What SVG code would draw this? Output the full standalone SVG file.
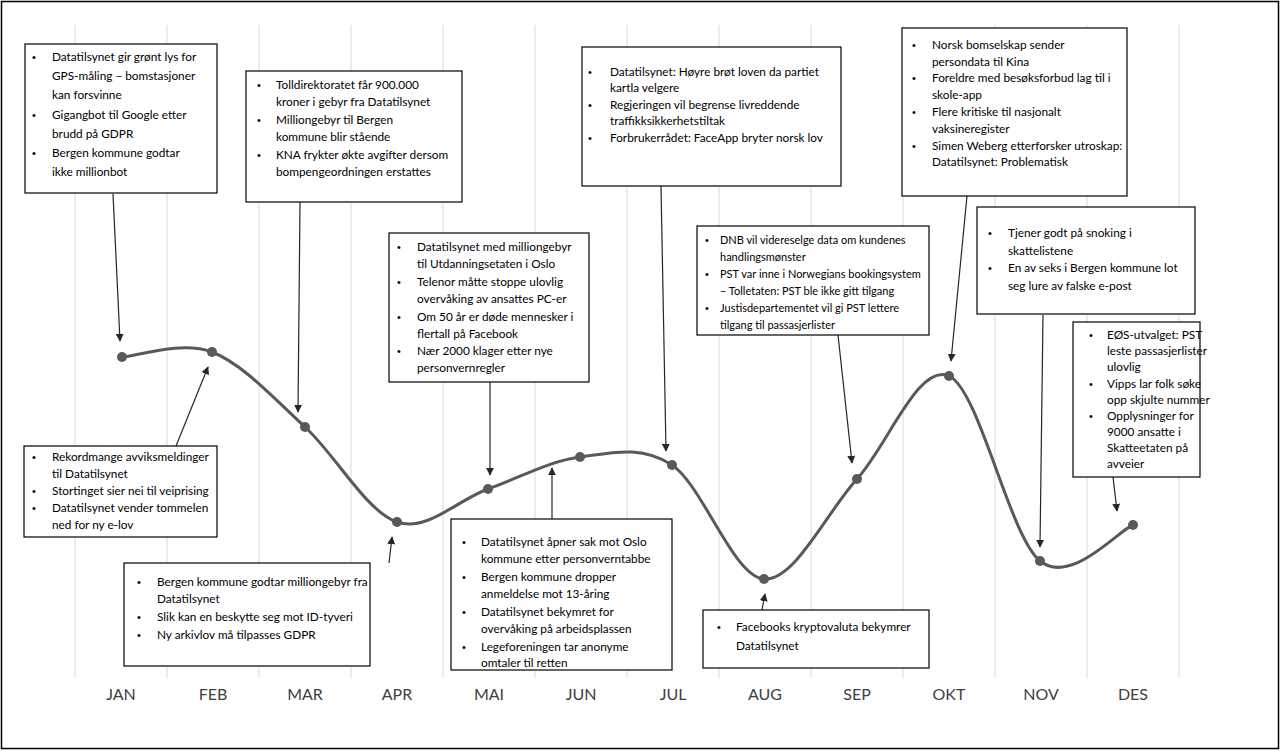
<svg xmlns="http://www.w3.org/2000/svg" width="1281" height="751" viewBox="0 0 1281 751">
<style>
.frame{fill:#fff;stroke:#000;stroke-width:1.5}
.grid{stroke:#d9d9d9;stroke-width:1}
.box{fill:#fff;stroke:#000;stroke-width:1.2}
.t{font-family:Lato,"Liberation Sans",sans-serif;font-size:11.8px;fill:#000}
.s{font-size:11px}
.b{font-family:"Liberation Sans",sans-serif;font-size:11px;fill:#000}
.m{font-family:Lato,"Liberation Sans",sans-serif;font-size:16px;fill:#404040;text-anchor:middle}
.curve{fill:none;stroke:#595959;stroke-width:3;stroke-linecap:round}
.dot{fill:#595959}
.conn{stroke:#262626;stroke-width:1.2;fill:none;marker-end:url(#ah)}
</style>
<defs>
<marker id="ah" viewBox="0 0 10 10" refX="9" refY="5" markerWidth="8" markerHeight="8" markerUnits="userSpaceOnUse" orient="auto">
<path d="M0,0 L10,5 L0,10 z" fill="#262626"/>
</marker>
</defs>
<rect class="frame" x="1.5" y="1.5" width="1277" height="747"/>
<g id="grid">
<line class="grid" x1="75" y1="25" x2="75" y2="678"/>
<line class="grid" x1="167" y1="25" x2="167" y2="678"/>
<line class="grid" x1="259" y1="25" x2="259" y2="678"/>
<line class="grid" x1="351" y1="25" x2="351" y2="678"/>
<line class="grid" x1="443" y1="25" x2="443" y2="678"/>
<line class="grid" x1="535" y1="25" x2="535" y2="678"/>
<line class="grid" x1="627" y1="25" x2="627" y2="678"/>
<line class="grid" x1="719" y1="25" x2="719" y2="678"/>
<line class="grid" x1="811" y1="25" x2="811" y2="678"/>
<line class="grid" x1="903" y1="25" x2="903" y2="678"/>
<line class="grid" x1="995" y1="25" x2="995" y2="678"/>
<line class="grid" x1="1087" y1="25" x2="1087" y2="678"/>
<line class="grid" x1="1179" y1="25" x2="1179" y2="678"/>
</g>
<g id="months">
<text class="m" x="121" y="700">JAN</text>
<text class="m" x="213" y="700">FEB</text>
<text class="m" x="305" y="700">MAR</text>
<text class="m" x="397" y="700">APR</text>
<text class="m" x="489" y="700">MAI</text>
<text class="m" x="581" y="700">JUN</text>
<text class="m" x="673" y="700">JUL</text>
<text class="m" x="765" y="700">AUG</text>
<text class="m" x="857" y="700">SEP</text>
<text class="m" x="949" y="700">OKT</text>
<text class="m" x="1041" y="700">NOV</text>
<text class="m" x="1133" y="700">DES</text>
</g>
<g id="series">
<path class="curve" d="M122,357 C137,356.2 181.5,340.3 212,352 C242.5,363.7 274.2,398.7 305,427 C335.8,455.3 366.5,511.7 397,522 C427.5,532.3 457.5,499.8 488,489 C518.5,478.2 549.3,461 580,457 C610.7,453 641.3,444.7 672,465 C702.7,485.3 733.2,576.7 764,579 C794.8,581.3 826.2,512.8 857,479 C887.8,445.2 918.5,362.3 949,376 C979.5,389.7 1009.3,536.2 1040,561 C1070.7,585.8 1117.5,531 1133,525"/>
<circle class="dot" cx="122" cy="357" r="5"/>
<circle class="dot" cx="212" cy="352" r="5"/>
<circle class="dot" cx="305" cy="427" r="5"/>
<circle class="dot" cx="397" cy="522" r="5"/>
<circle class="dot" cx="488" cy="489" r="5"/>
<circle class="dot" cx="580" cy="457" r="5"/>
<circle class="dot" cx="672" cy="465" r="5"/>
<circle class="dot" cx="764" cy="579" r="5"/>
<circle class="dot" cx="857" cy="479" r="5"/>
<circle class="dot" cx="949" cy="376" r="5"/>
<circle class="dot" cx="1040" cy="561" r="5"/>
<circle class="dot" cx="1133" cy="525" r="5"/>
</g>
<g id="connectors">
<line class="conn" x1="113" y1="194" x2="120" y2="341"/>
<line class="conn" x1="176" y1="446" x2="208" y2="367"/>
<line class="conn" x1="300" y1="202" x2="298" y2="412"/>
<line class="conn" x1="389" y1="563" x2="392" y2="537"/>
<line class="conn" x1="490" y1="382" x2="490" y2="475"/>
<line class="conn" x1="552" y1="519" x2="552" y2="468"/>
<line class="conn" x1="661" y1="186" x2="666" y2="451"/>
<line class="conn" x1="762" y1="610" x2="765" y2="594"/>
<line class="conn" x1="838" y1="335" x2="852" y2="463"/>
<line class="conn" x1="967" y1="196" x2="951" y2="361"/>
<line class="conn" x1="1043" y1="315" x2="1040" y2="547"/>
<line class="conn" x1="1113" y1="477" x2="1117" y2="511"/>
</g>
<g id="box-jan">
<rect class="box" x="25" y="44" width="192" height="149"/>
<text class="b" x="32" y="61">•</text><text class="t" x="52" y="61">Datatilsynet gir grønt lys for</text>
<text class="t" x="52" y="80">GPS-måling – bomstasjoner</text>
<text class="t" x="52" y="99">kan forsvinne</text>
<text class="b" x="32" y="119">•</text><text class="t" x="52" y="119">Gigangbot til Google etter</text>
<text class="t" x="52" y="138">brudd på GDPR</text>
<text class="b" x="32" y="157">•</text><text class="t" x="52" y="157">Bergen kommune godtar</text>
<text class="t" x="52" y="176">ikke millionbot</text>
</g>
<g id="box-mar">
<rect class="box" x="246" y="71" width="216" height="131"/>
<text class="b" x="257" y="89">•</text><text class="t" x="276" y="89">Tolldirektoratet får 900.000</text>
<text class="t" x="276" y="106">kroner i gebyr fra Datatilsynet</text>
<text class="b" x="257" y="124">•</text><text class="t" x="276" y="124">Milliongebyr til Bergen</text>
<text class="t" x="276" y="141">kommune blir stående</text>
<text class="b" x="257" y="159">•</text><text class="t" x="276" y="159">KNA frykter økte avgifter dersom</text>
<text class="t" x="276" y="176">bompengeordningen erstattes</text>
</g>
<g id="box-mai">
<rect class="box" x="389" y="233" width="200" height="149"/>
<text class="b" x="397" y="251">•</text><text class="t" x="417" y="251">Datatilsynet med milliongebyr</text>
<text class="t" x="417" y="268">til Utdanningsetaten i Oslo</text>
<text class="b" x="397" y="286">•</text><text class="t" x="417" y="286">Telenor måtte stoppe ulovlig</text>
<text class="t" x="417" y="303">overvåking av ansattes PC-er</text>
<text class="b" x="397" y="321">•</text><text class="t" x="417" y="321">Om 50 år er døde mennesker i</text>
<text class="t" x="417" y="338">flertall på Facebook</text>
<text class="b" x="397" y="355">•</text><text class="t" x="417" y="355">Nær 2000 klager etter nye</text>
<text class="t" x="417" y="372">personvernregler</text>
</g>
<g id="box-jul">
<rect class="box" x="582" y="47" width="259" height="139"/>
<text class="b" x="588" y="76">•</text><text class="t" x="610" y="76">Datatilsynet: Høyre brøt loven da partiet</text>
<text class="t" x="610" y="92">kartla velgere</text>
<text class="b" x="588" y="109">•</text><text class="t" x="610" y="109">Regjeringen vil begrense livreddende</text>
<text class="t" x="610" y="125">traffikksikkerhetstiltak</text>
<text class="b" x="588" y="142">•</text><text class="t" x="610" y="142">Forbrukerrådet: FaceApp bryter norsk lov</text>
</g>
<g id="box-sep">
<rect class="box" x="697" y="226" width="232" height="109"/>
<text class="b" x="705" y="244">•</text><text class="t s" x="720" y="244">DNB vil videreselge data om kundenes</text>
<text class="t s" x="720" y="261">handlingsmønster</text>
<text class="b" x="705" y="278">•</text><text class="t s" x="720" y="278">PST var inne i Norwegians bookingsystem</text>
<text class="t s" x="720" y="295">– Tolletaten: PST ble ikke gitt tilgang</text>
<text class="b" x="705" y="312">•</text><text class="t s" x="720" y="312">Justisdepartementet vil gi PST lettere</text>
<text class="t s" x="720" y="329">tilgang til passasjerlister</text>
</g>
<g id="box-okt">
<rect class="box" x="902" y="28" width="225" height="168"/>
<text class="b" x="912" y="49">•</text><text class="t" x="932" y="49">Norsk bomselskap sender</text>
<text class="t" x="932" y="66">persondata til Kina</text>
<text class="b" x="912" y="82">•</text><text class="t" x="932" y="82">Foreldre med besøksforbud lag til i</text>
<text class="t" x="932" y="99">skole-app</text>
<text class="b" x="912" y="116">•</text><text class="t" x="932" y="116">Flere kritiske til nasjonalt</text>
<text class="t" x="932" y="133">vaksineregister</text>
<text class="b" x="912" y="150">•</text><text class="t" x="932" y="150">Simen Weberg etterforsker utroskap:</text>
<text class="t" x="932" y="166">Datatilsynet: Problematisk</text>
</g>
<g id="box-nov">
<rect class="box" x="977" y="207" width="218" height="107"/>
<text class="b" x="988" y="237">•</text><text class="t" x="1008" y="237">Tjener godt på snoking i</text>
<text class="t" x="1008" y="255">skattelistene</text>
<text class="b" x="988" y="272">•</text><text class="t" x="1008" y="272">En av seks i Bergen kommune lot</text>
<text class="t" x="1008" y="290">seg lure av falske e-post</text>
</g>
<g id="box-des">
<rect class="box" x="1073" y="322" width="127" height="155"/>
<text class="b" x="1089" y="339">•</text><text class="t" x="1107" y="339">EØS-utvalget: PST</text>
<text class="t" x="1107" y="355">leste passasjerlister</text>
<text class="t" x="1107" y="371">ulovlig</text>
<text class="b" x="1089" y="388">•</text><text class="t" x="1107" y="388">Vipps lar folk søke</text>
<text class="t" x="1107" y="404">opp skjulte nummer</text>
<text class="b" x="1089" y="420">•</text><text class="t" x="1107" y="420">Opplysninger for</text>
<text class="t" x="1107" y="436">9000 ansatte i</text>
<text class="t" x="1107" y="452">Skatteetaten på</text>
<text class="t" x="1107" y="468">avveier</text>
</g>
<g id="box-feb">
<rect class="box" x="24" y="446" width="193" height="91"/>
<text class="b" x="32" y="461">•</text><text class="t" x="52" y="461">Rekordmange avviksmeldinger</text>
<text class="t" x="52" y="478">til Datatilsynet</text>
<text class="b" x="32" y="495">•</text><text class="t" x="52" y="495">Stortinget sier nei til veiprising</text>
<text class="b" x="32" y="512">•</text><text class="t" x="52" y="512">Datatilsynet vender tommelen</text>
<text class="t" x="52" y="529">ned for ny e-lov</text>
</g>
<g id="box-apr">
<rect class="box" x="124" y="563" width="246" height="103"/>
<text class="b" x="137" y="586">•</text><text class="t" x="157" y="586">Bergen kommune godtar milliongebyr fra</text>
<text class="t" x="157" y="603">Datatilsynet</text>
<text class="b" x="137" y="621">•</text><text class="t" x="157" y="621">Slik kan en beskytte seg mot ID-tyveri</text>
<text class="b" x="137" y="639">•</text><text class="t" x="157" y="639">Ny arkivlov må tilpasses GDPR</text>
</g>
<g id="box-jun">
<rect class="box" x="451" y="519" width="221" height="151"/>
<text class="b" x="462" y="546">•</text><text class="t" x="481" y="546">Datatilsynet åpner sak mot Oslo</text>
<text class="t" x="481" y="563">kommune etter personverntabbe</text>
<text class="b" x="462" y="581">•</text><text class="t" x="481" y="581">Bergen kommune dropper</text>
<text class="t" x="481" y="598">anmeldelse mot 13-åring</text>
<text class="b" x="462" y="616">•</text><text class="t" x="481" y="616">Datatilsynet bekymret for</text>
<text class="t" x="481" y="633">overvåking på arbeidsplassen</text>
<text class="b" x="462" y="651">•</text><text class="t" x="481" y="651">Legeforeningen tar anonyme</text>
<text class="t" x="481" y="667">omtaler til retten</text>
</g>
<g id="box-aug">
<rect class="box" x="703" y="610" width="226" height="58"/>
<text class="b" x="717" y="631">•</text><text class="t" x="736" y="631">Facebooks kryptovaluta bekymrer</text>
<text class="t" x="736" y="650">Datatilsynet</text>
</g>
</svg>
